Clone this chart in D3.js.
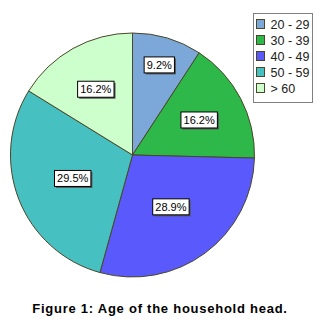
<!DOCTYPE html>
<html>
<head>
<meta charset="utf-8">
<script src="https://cdn.jsdelivr.net/npm/d3@7"></script>
<style>
  body { margin: 0; background: #fff; }
  text { font-family: "Liberation Sans", Arial, sans-serif; }
</style>
</head>
<body>
<svg id="chart" width="320" height="325"></svg>
<script>
// age groups and their share of households (%)
const categories = ["20 - 29", "30 - 39", "40 - 49", "50 - 59", "> 60"];
const percents = [9.2, 16.2, 28.9, 29.5, 16.2];
const colors = ["#7ba8d8", "#2eb84a", "#5a5afc", "#47c0c2", "#ccffcc"];
const title = "Figure 1: Age of the household head.";

const svg = d3.select("#chart");
const cx = 132.5, cy = 155, radius = 122;

const pie = d3.pie().sort(null).value(d => d.value);
const arcs = pie(categories.map((c, i) => ({label: c, value: percents[i], color: colors[i]})));
const arc = d3.arc().innerRadius(0).outerRadius(radius);

const g = svg.append("g").attr("transform", `translate(${cx},${cy})`);

g.selectAll("path")
  .data(arcs)
  .enter()
  .append("path")
  .attr("d", arc)
  .attr("fill", d => d.data.color)
  .attr("stroke", "#4a4628")
  .attr("stroke-width", 1);

// small slices get their label pushed outward, like SPSS does
const total = d3.sum(percents);
const labelPos = d => {
  const f = d.data.value / total;
  const r = radius * (0.416 + 0.0326 / f);
  return d3.arc().innerRadius(r).outerRadius(r).centroid(d);
};

const labels = g.selectAll("g.lbl")
  .data(arcs)
  .enter()
  .append("g")
  .attr("class", "lbl")
  .attr("transform", d => `translate(${labelPos(d)})`);

labels.append("text")
  .attr("text-anchor", "middle")
  .attr("dy", "0.36em")
  .attr("font-size", 11)
  .attr("fill", "#000")
  .text(d => d.data.value.toFixed(1) + "%")
  .each(function() {
    const b = this.getBBox();
    const p = d3.select(this.parentNode);
    const w = b.width + 5, h = 16;
    p.insert("rect", "text")
      .attr("x", -w / 2 + 1.5).attr("y", -h / 2 + 1.5)
      .attr("width", w).attr("height", h)
      .attr("fill", "#555");
    p.insert("rect", "text")
      .attr("x", -w / 2).attr("y", -h / 2)
      .attr("width", w).attr("height", h)
      .attr("fill", "#fff")
      .attr("stroke", "#000")
      .attr("stroke-width", 1);
  });

// legend
const legend = svg.append("g").attr("transform", "translate(253.5,13.5)");
legend.append("rect")
  .attr("width", 59).attr("height", 89)
  .attr("fill", "#fff")
  .attr("stroke", "#808080")
  .attr("stroke-width", 1);

const rowY = d3.scalePoint().domain(categories).range([6, 70]);
const items = legend.selectAll("g.item")
  .data(arcs)
  .enter()
  .append("g")
  .attr("class", "item")
  .attr("transform", d => `translate(3,${rowY(d.data.label)})`);

items.append("rect")
  .attr("width", 8).attr("height", 9)
  .attr("fill", d => d.data.color)
  .attr("stroke", "#4a4628")
  .attr("stroke-width", 1);

items.append("text")
  .attr("x", 14).attr("y", 9)
  .attr("font-size", 12.5)
  .attr("fill", "#222")
  .text(d => d.data.label);

svg.append("text")
  .attr("x", 160).attr("y", 313)
  .attr("text-anchor", "middle")
  .attr("font-size", 13)
  .attr("letter-spacing", 0.75)
  .attr("font-weight", "bold")
  .attr("fill", "#000")
  .text(title);
</script>
</body>
</html>
